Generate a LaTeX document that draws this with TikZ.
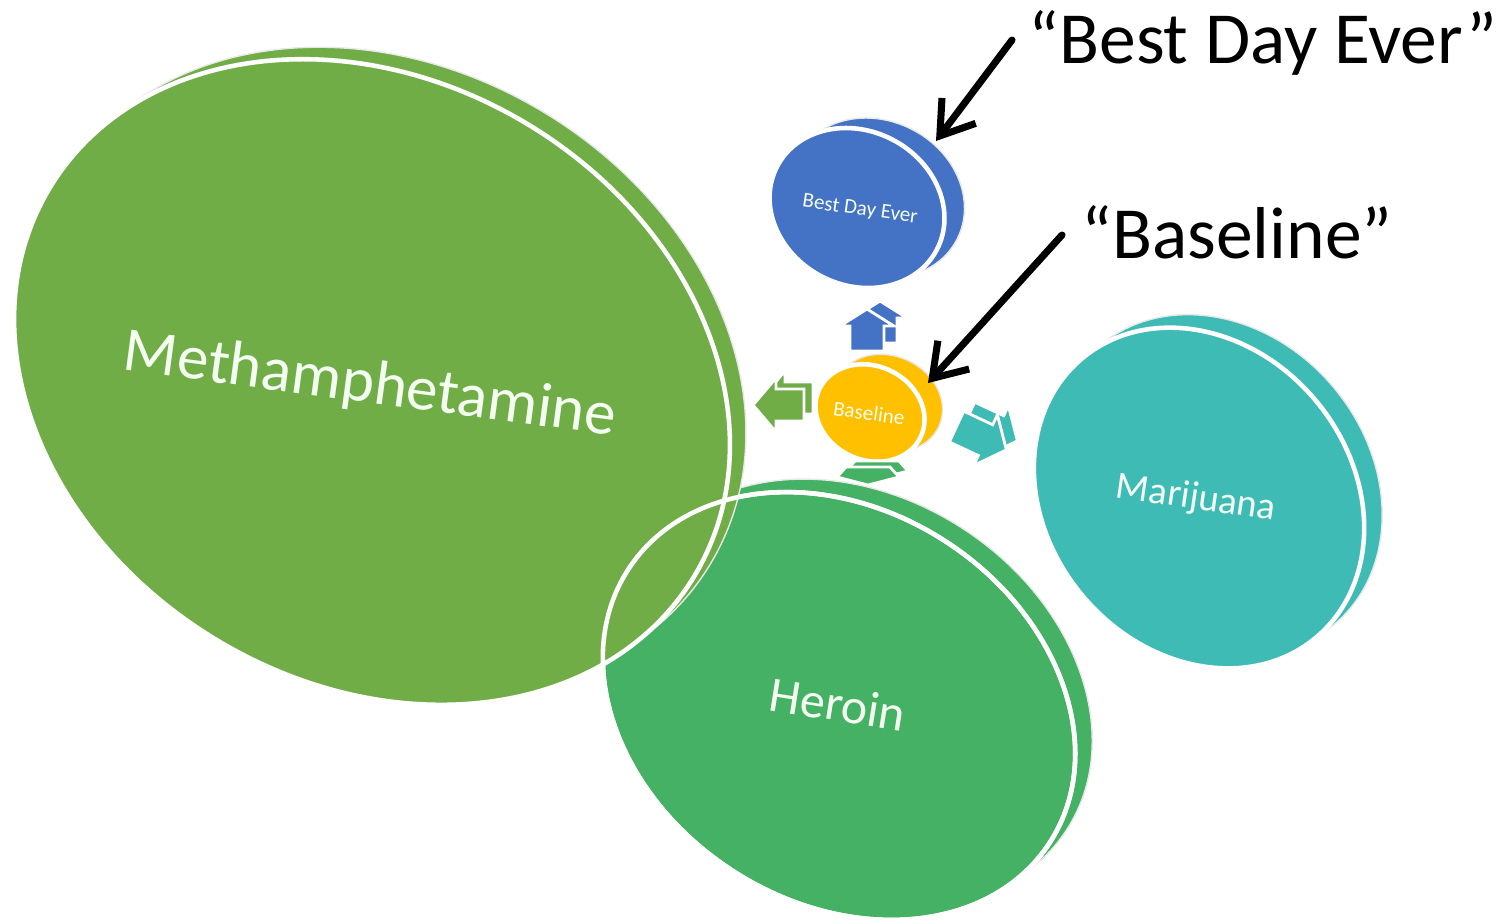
\documentclass[tikz,border=0pt]{standalone}
\usepackage{fontspec}
\setmainfont{Carlito}
\usetikzlibrary{shapes.geometric,arrows.meta}
\definecolor{methg}{HTML}{70AD47}
\definecolor{herg}{HTML}{45B164}
\definecolor{marc}{HTML}{3FBBB6}
\definecolor{bdeb}{HTML}{4472C4}
\definecolor{baso}{HTML}{FFC000}
\definecolor{lbltext}{HTML}{F4FFF2}
\begin{document}
\begin{tikzpicture}[x=0.01cm,y=-0.01cm,
  disc/.style={ellipse, inner sep=0pt, outer sep=0pt},
  face/.style={disc, draw=white, line width=1.3pt},
  backdisc/.style={disc, draw=gray!18, line width=0.4pt},
  ring/.style={disc, draw=white, line width=1.3pt},
  lbl/.style={text=lbltext, inner sep=0pt},
  note/.style={font=\fontsize{20.9}{24}\selectfont, inner sep=0pt, text=black},
  pointer/.style={line width=2pt, line cap=round, -{Straight Barb[length=9pt,width=12pt]}},
  blk/.style={draw=white, line width=0.8pt}
]
\useasboundingbox (0,0) rectangle (1507,923);

% ---- Heroin disc
\node[backdisc, fill=herg, minimum width=5.02cm, minimum height=3.92cm, rotate=-33] (herback) at (856,693) {};
\node[face, fill=herg, minimum width=5.02cm, minimum height=3.92cm, rotate=-33] (her) at (839,706) {};

% ---- Methamphetamine disc
\node[backdisc, fill=methg, minimum width=7.52cm, minimum height=6.02cm, rotate=-31] (methback) at (388,370) {};
\node[face, fill=methg, minimum width=7.52cm, minimum height=6.02cm, rotate=-31] (meth) at (372,382) {};
% heroin rim seen through the overlap
\node[ring, minimum width=5.02cm, minimum height=3.92cm, rotate=-33] (herring) at (839,706) {};

% ---- Marijuana disc
\node[backdisc, fill=marc, minimum width=3.64cm, minimum height=3.04cm, rotate=-50] (marback) at (1217,485) {};
\node[face, fill=marc, minimum width=3.64cm, minimum height=3.04cm, rotate=-50] (mar) at (1199,498) {};

% ---- Best Day Ever disc
\node[backdisc, fill=bdeb, minimum width=1.80cm, minimum height=1.54cm, rotate=-27.5] (bdeback) at (877,198) {};
\node[face, fill=bdeb, minimum width=1.80cm, minimum height=1.54cm, rotate=-27.5] (bde) at (857,208) {};

% ---- Baseline disc
\node[backdisc, fill=baso, minimum width=1.12cm, minimum height=0.94cm, rotate=-25] (basback) at (888,403) {};
\node[face, fill=baso, minimum width=1.12cm, minimum height=0.94cm, rotate=-25] (bas) at (870,413) {};

% ---- small 3D block arrows
% up (blue)
\begin{scope}[shift={(880,322)}, rotate=90]
  \filldraw[blk, fill=bdeb] (-21,-17) -- (4,-17) -- (4,-27) -- (21,0) -- (4,27) -- (4,17) -- (-21,17) -- cycle;
\end{scope}
\begin{scope}[shift={(867,330)}, rotate=90]
  \filldraw[blk, fill=bdeb] (-21,-17) -- (4,-17) -- (4,-27) -- (21,0) -- (4,27) -- (4,17) -- (-21,17) -- cycle;
\end{scope}
% left (olive green)
\begin{scope}[shift={(788,398)}, rotate=180]
  \filldraw[blk, fill=methg] (-25,-16) -- (3,-16) -- (3,-27) -- (26,0) -- (3,27) -- (3,16) -- (-25,16) -- cycle;
\end{scope}
\begin{scope}[shift={(779,405)}, rotate=180]
  \filldraw[blk, fill=methg] (-25,-16) -- (3,-16) -- (3,-27) -- (26,0) -- (3,27) -- (3,16) -- (-25,16) -- cycle;
\end{scope}
% right (teal)
\begin{scope}[shift={(992,429)}, rotate=-25]
  \filldraw[blk, fill=marc] (-27,-17) -- (5,-17) -- (5,-28) -- (28,0) -- (5,28) -- (5,17) -- (-27,17) -- cycle;
\end{scope}
\begin{scope}[shift={(981,438)}, rotate=-25]
  \filldraw[blk, fill=marc] (-27,-17) -- (5,-17) -- (5,-28) -- (28,0) -- (5,28) -- (5,17) -- (-27,17) -- cycle;
\end{scope}
% down (green, foreshortened)
\begin{scope}[shift={(877,469)}]
  \filldraw[blk, fill=herg] (-22,-8) -- (22,-8) -- (31,2) -- (0,10) -- (-31,2) -- cycle;
\end{scope}
\begin{scope}[shift={(868,475)}]
  \filldraw[blk, fill=herg] (-22,-8) -- (22,-8) -- (31,2) -- (0,10) -- (-31,2) -- cycle;
\end{scope}

% ---- labels inside discs
\node[lbl, rotate=-7.6, font=\fontsize{17.9}{21}\selectfont] (tmeth) at (370,386) {Methamphetamine};
\node[lbl, rotate=-9, font=\fontsize{14.2}{17}\selectfont] (ther) at (838,704) {Heroin};
\node[lbl, rotate=-8.3, font=\fontsize{11}{13}\selectfont] (tmar) at (1196,499) {Marijuana};
\node[lbl, rotate=-8, font=\fontsize{6}{7}\selectfont] (tbde) at (860,210) {Best Day Ever};
\node[lbl, rotate=-8, font=\fontsize{6}{7}\selectfont] (tbas) at (869,413) {Baseline};

% ---- annotations
\node[note, anchor=base west] (n1) at (1028,63) {“Best Day Ever”};
\node[note, anchor=base west] (n2) at (1081,258) {“Baseline”};
\coordinate (s1) at (1012,40);
\coordinate (t1) at (936,141);
\coordinate (s2) at (1062,235);
\coordinate (t2) at (928,383);
\draw[pointer] (s1) -- (t1);
\draw[pointer] (s2) -- (t2);
\end{tikzpicture}
\end{document}
